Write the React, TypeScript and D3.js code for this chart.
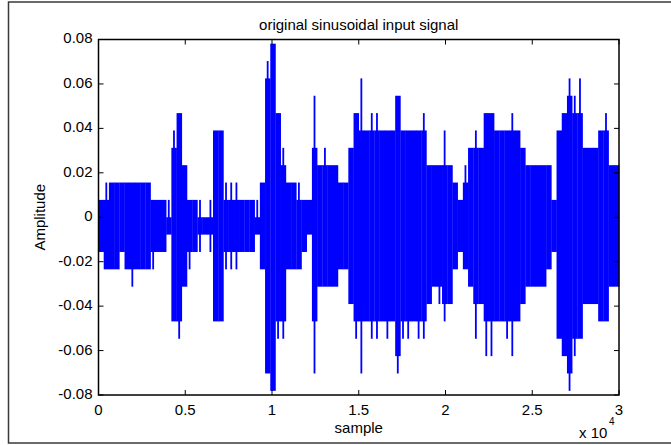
import React from "react";
import * as d3 from "d3";

const WIDTH = 671;
const HEIGHT = 445;
const PLOT = { left: 98.5, right: 619, top: 39.5, bottom: 395 };

// signal is 8-bit quantised: one step = 1/128
const STEP = 1 / 128;
const N_SAMPLES = 30000;
const BIN_SIZE = 300;

// peak envelope of the signal per 300-sample bin, in quantisation steps
const upperLevels = [
  1, 2, 2, 2, 2, 2, 2, 2, 2, 2,
  1, 1, 1, 1, 5, 6, 3, 1, 1, 1,
  0, 1, 5, 5, 2, 2, 2, 1, 1, 1,
  1, 2, 9, 10, 6, 4, 2, 2, 2, 1,
  1, 7, 3, 4, 3, 3, 2, 2, 4, 6,
  8, 5, 6, 6, 5, 5, 5, 7, 5, 5,
  5, 5, 6, 3, 3, 3, 5, 3, 2, 1,
  3, 4, 5, 4, 6, 6, 5, 5, 5, 6,
  5, 4, 3, 3, 3, 3, 3, 1, 5, 6,
  8, 7, 8, 4, 4, 4, 5, 6, 3, 3,
];
const lowerLevels = [
  -2, -3, -3, -3, -2, -3, -4, -3, -3, -3,
  -3, -2, -2, -1, -6, -7, -4, -3, -2, -2,
  -1, -2, -6, -6, -3, -3, -3, -2, -2, -2,
  -1, -3, -9, -10, -7, -7, -3, -3, -3, -2,
  -1, -9, -4, -4, -4, -4, -3, -3, -5, -7,
  -9, -6, -7, -7, -6, -7, -6, -9, -7, -7,
  -6, -7, -7, -5, -4, -5, -6, -5, -3, -2,
  -3, -4, -7, -5, -8, -8, -6, -6, -7, -8,
  -6, -5, -4, -4, -4, -4, -3, -2, -7, -8,
  -10, -8, -7, -5, -5, -5, -6, -6, -4, -4,
];

// level that most of each bin reaches (the isolated spikes left out)
const bodyUpper = [
  1, 1, 2, 2, 2, 2, 2, 2, 2, 2,
  1, 1, 1, 0, 4, 6, 3, 1, 1, 0,
  0, 0, 5, 5, 1, 1, 1, 1, 1, 1,
  0, 2, 8, 10, 6, 3, 2, 2, 1, 1,
  1, 4, 3, 3, 3, 3, 2, 2, 4, 6,
  5, 5, 5, 5, 5, 5, 5, 7, 5, 5,
  5, 5, 5, 3, 3, 3, 3, 3, 2, 1,
  2, 4, 4, 4, 6, 6, 5, 5, 5, 5,
  5, 4, 3, 3, 3, 3, 3, 1, 5, 6,
  7, 6, 6, 4, 4, 4, 5, 5, 3, 3,
];
const bodyLower = [
  -2, -3, -3, -3, -2, -3, -3, -3, -3, -3,
  -2, -2, -2, -1, -6, -6, -4, -2, -2, -1,
  -1, -1, -6, -6, -2, -2, -2, -2, -2, -2,
  -1, -3, -9, -10, -6, -6, -3, -3, -3, -2,
  -1, -6, -4, -4, -4, -4, -3, -3, -5, -6,
  -6, -6, -6, -6, -6, -6, -6, -8, -6, -6,
  -6, -6, -6, -5, -4, -4, -5, -5, -3, -2,
  -3, -4, -5, -5, -6, -6, -6, -6, -6, -6,
  -6, -5, -4, -4, -4, -4, -3, -2, -7, -8,
  -9, -7, -7, -5, -5, -5, -6, -6, -4, -4,
];

const xTicks = [0, 5000, 10000, 15000, 20000, 25000, 30000];
const xTickLabels = ["0", "0.5", "1", "1.5", "2", "2.5", "3"];
const yTicks = [0.08, 0.06, 0.04, 0.02, 0, -0.02, -0.04, -0.06, -0.08];
const yTickLabels = ["0.08", "0.06", "0.04", "0.02", "0", "-0.02", "-0.04", "-0.06", "-0.08"];

const FONT = "'Liberation Sans', Arial, sans-serif";
const FS = 15;
const TICK = 5;
const BLUE = "#0000ff";

export default function App() {
  const x = d3.scaleLinear().domain([0, N_SAMPLES]).range([PLOT.left, PLOT.right]);
  const y = d3.scaleLinear().domain([-0.08, 0.08]).range([PLOT.bottom, PLOT.top]);

  const bins = upperLevels.map((up, i) => ({
    start: i * BIN_SIZE,
    end: (i + 1) * BIN_SIZE,
    hi: up * STEP,
    lo: lowerLevels[i] * STEP,
    bodyHi: bodyUpper[i] * STEP,
    bodyLo: bodyLower[i] * STEP,
  }));

  return (
    <div style={{ position: "absolute", left: 0, top: 0 }}>
      <svg width={WIDTH} height={HEIGHT} style={{ display: "block", background: "#fff" }}>
        {/* figure frame */}
        <rect x={8.5} y={2} width={700} height={441} fill="none" stroke="#3a3a3a" strokeWidth={1.5} />

        {/* signal: solid body per bin, thin spikes up to the peak */}
        <g fill={BLUE}>
          {bins.map((b, i) => {
            const x0 = x(b.start);
            const w = x(b.end) - x0;
            const mid = x0 + w / 2;
            return (
              <g key={i}>
                <rect x={x0} y={y(b.bodyHi)} width={w + 0.3} height={Math.max(1, y(b.bodyLo) - y(b.bodyHi))} />
                {b.hi > b.bodyHi && (
                  <rect x={mid - 0.9} y={y(b.hi)} width={1.8} height={y(b.bodyHi) - y(b.hi) + 1} />
                )}
                {b.lo < b.bodyLo && (
                  <rect x={mid - 0.9} y={y(b.bodyLo) - 1} width={1.8} height={y(b.lo) - y(b.bodyLo) + 1} />
                )}
              </g>
            );
          })}
        </g>

        {/* ticks */}
        <g stroke="#000" strokeWidth={1}>
          {xTicks.map((t) => (
            <g key={"x" + t}>
              <line x1={x(t)} x2={x(t)} y1={PLOT.bottom} y2={PLOT.bottom - TICK} />
              <line x1={x(t)} x2={x(t)} y1={PLOT.top} y2={PLOT.top + TICK} />
            </g>
          ))}
          {yTicks.map((t) => (
            <g key={"y" + t}>
              <line x1={PLOT.left} x2={PLOT.left + TICK} y1={y(t)} y2={y(t)} />
              <line x1={PLOT.right} x2={PLOT.right - TICK} y1={y(t)} y2={y(t)} />
            </g>
          ))}
        </g>

        {/* axes box */}
        <rect
          x={PLOT.left}
          y={PLOT.top}
          width={PLOT.right - PLOT.left}
          height={PLOT.bottom - PLOT.top}
          fill="none"
          stroke="#000"
          strokeWidth={1.5}
        />

        {/* tick labels */}
        <g fontFamily={FONT} fontSize={FS} fill="#000">
          {xTicks.map((t, i) => (
            <text key={"xl" + t} x={x(t)} y={PLOT.bottom + 16} textAnchor="middle" dominantBaseline="middle">
              {xTickLabels[i]}
            </text>
          ))}
          {yTicks.map((t, i) => (
            <text key={"yl" + t} x={PLOT.left - 6} y={y(t)} textAnchor="end" dominantBaseline="middle">
              {yTickLabels[i]}
            </text>
          ))}
          <text x={579} y={434} dominantBaseline="middle">
            x 10
          </text>
          <text x={609} y={422} fontSize={10} dominantBaseline="middle">
            4
          </text>
        </g>

        {/* labels */}
        <g fontFamily={FONT} fill="#000" textAnchor="middle" fontSize={FS}>
          <text x={(PLOT.left + PLOT.right) / 2} y={30}>
            original sinusoidal input signal
          </text>
          <text x={(PLOT.left + PLOT.right) / 2} y={433}>
            sample
          </text>
          <text transform={`translate(45, ${(PLOT.top + PLOT.bottom) / 2}) rotate(-90)`}>
            Amplitude
          </text>
        </g>
      </svg>
    </div>
  );
}
